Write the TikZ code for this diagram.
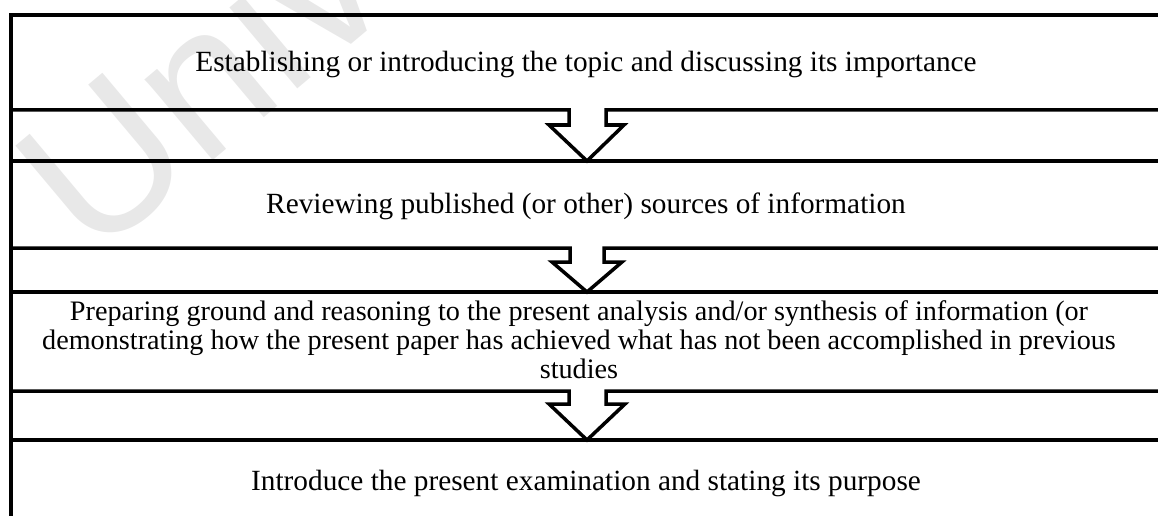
\documentclass[tikz,border=0pt]{standalone}
\usepackage{fontspec}
\setmainfont{Liberation Serif}
\newfontfamily\wmfont{Liberation Sans}
\tikzset{
  rule/.style={line width=3.5pt, line join=miter, line cap=rect},
  lbl/.style={font=\fontsize{29.3}{29}\selectfont, inner sep=0pt, anchor=base, align=center},
  lblsmall/.style={lbl, font=\fontsize{28.2}{29}\selectfont},
  wm/.style={font=\wmfont\fontsize{200}{200}\selectfont, text=black!9, inner sep=0pt, anchor=base west, rotate=40}
}
\begin{document}
\begin{tikzpicture}[x=1pt,y=-1pt]
\useasboundingbox (0,0) rectangle (1158,516);
\begin{scope}
\clip (0,0) rectangle (1158,516);
\node[wm] (mark) at (92,262) {Univ};
% left edge and top
\coordinate (tl) at (11,15);
\coordinate (bl) at (11,520);
\coordinate (tr) at (1162,15);
\draw[rule] (bl) -- (tl) -- (tr);
% strip 1
\draw[rule] (11,110) -- (569,110) -- (569,125) -- (549,125) -- (587,161) -- (624,125) -- (606,125) -- (606,110) -- (1162,110);
\draw[rule] (11,161) -- (1162,161);
% strip 2
\draw[rule] (11,248) -- (570,248) -- (570,262) -- (552,262) -- (587,292) -- (622,262) -- (604,262) -- (604,248) -- (1162,248);
\draw[rule] (11,292) -- (1162,292);
% strip 3
\draw[rule] (11,391) -- (569,391) -- (569,404) -- (549,404) -- (587,440) -- (625,404) -- (606,404) -- (606,391) -- (1162,391);
\draw[rule] (11,440) -- (1162,440);
\end{scope}
\node[lbl] (t1) at (586,71.7) {Establishing or introducing the topic and discussing its importance};
\node[lbl] (t2) at (586,213.3) {Reviewing published (or other) sources of information};
\node[lblsmall] (t3) at (579,378) {Preparing ground and reasoning to the present analysis and/or synthesis of information (or\\demonstrating how the present paper has achieved what has not been accomplished in previous\\studies};
\node[lbl] (t4) at (586,490.5) {Introduce the present examination and stating its purpose};
\end{tikzpicture}
\end{document}
